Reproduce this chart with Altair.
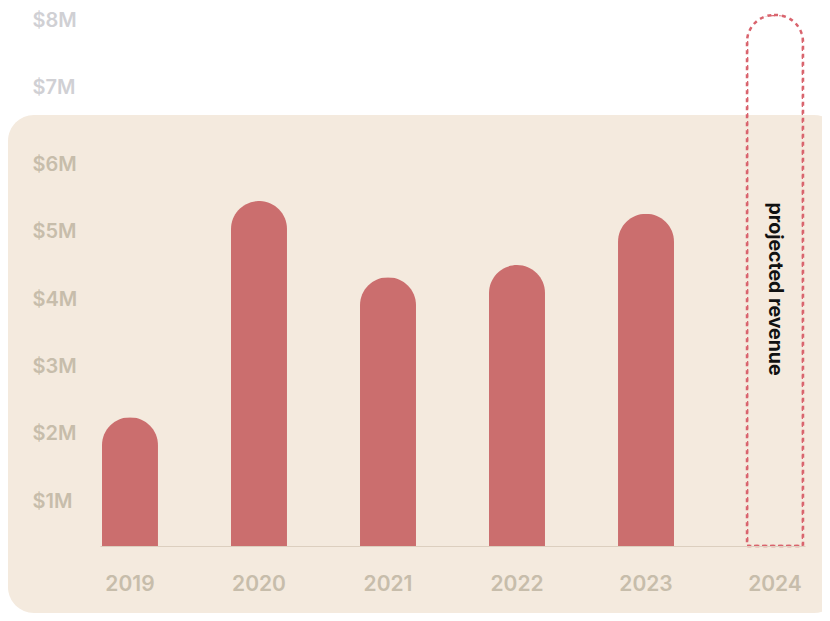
import altair as alt
import pandas as pd

years = ["2019", "2020", "2021", "2022", "2023", "2024"]
revenue = [2.23, 5.44, 4.31, 4.49, 5.25, None]  # $M, 2024 projected
projected_year = ["2024"]
projected_value = [8.2]
tick_values = [1, 2, 3, 4, 5, 6, 7, 8]
note = ["projected revenue"]

df = pd.DataFrame({"year": years, "revenue": revenue}).dropna()
proj = pd.DataFrame({"year": projected_year, "revenue": projected_value, "note": note})
bg = pd.DataFrame({"k": [0]})

FONT = "Inter"
Y_MIN, Y_MAX = 0.32, 8.2

xscale = alt.Scale(domain=years, paddingInner=0.566, paddingOuter=0.0155)
yscale = alt.Scale(domain=[Y_MIN, Y_MAX], zero=False, clamp=True, nice=False)

background = alt.Chart(bg).mark_rect(
    color="#F4EADE", cornerRadius=26
).encode(
    x=alt.value(-92), x2=alt.value(740), y=alt.value(100), y2=alt.value(598)
)

bars = alt.Chart(df).mark_bar(
    color="#CB6E6E", cornerRadiusTopLeft=28, cornerRadiusTopRight=28
).encode(
    x=alt.X("year:N", scale=xscale, sort=years,
            axis=alt.Axis(title=None, ticks=False, tickSize=0, labelAngle=0,
                          labelPadding=27, labelFontSize=21, labelFont=FONT,
                          labelFontWeight=600, labelColor="#C7BDAB",
                          domainColor="#DCCFBF", domainWidth=1, zindex=1)),
    y=alt.Y("revenue:Q", scale=yscale,
            axis=alt.Axis(title=None, values=tick_values, grid=False, domain=False,
                          ticks=False, tickSize=0, labelPadding=68, labelAlign="left",
                          labelFontSize=20, labelFont=FONT, labelFontWeight=600,
                          labelExpr="'$' + datum.value + 'M'", zindex=1,
                          labelColor={"condition": {"test": "datum.value >= 7", "value": "#D0D0D4"},
                                      "value": "#C7BDAB"},
                          labelOffset={"condition": {"test": "datum.value >= 7", "value": -8},
                                       "value": 1})),
)

projected = alt.Chart(proj).mark_bar(
    fill="transparent", stroke="#D9646E", strokeWidth=2.5, strokeDash=[4, 4],
    cornerRadiusTopLeft=27, cornerRadiusTopRight=27
).encode(
    x=alt.X("year:N", scale=xscale, sort=years),
    y=alt.Y("revenue:Q", scale=yscale),
)

label = alt.Chart(proj).mark_text(
    angle=90, font=FONT, fontSize=19.5, fontWeight="bold", color="#111111",
    align="center", baseline="middle"
).encode(
    x=alt.X("year:N", scale=xscale, sort=years),
    y=alt.value(274),
    text="note:N",
)

chart = alt.layer(background, bars, projected, label).properties(
    width=705, height=531,
    autosize=alt.AutoSizeParams(type="none"),
    padding={"left": 92, "top": 7, "right": 17, "bottom": 67},
    background="white",
).configure_view(stroke=None)

chart.save("out.html", embed_options={"renderer": "svg", "actions": False})
